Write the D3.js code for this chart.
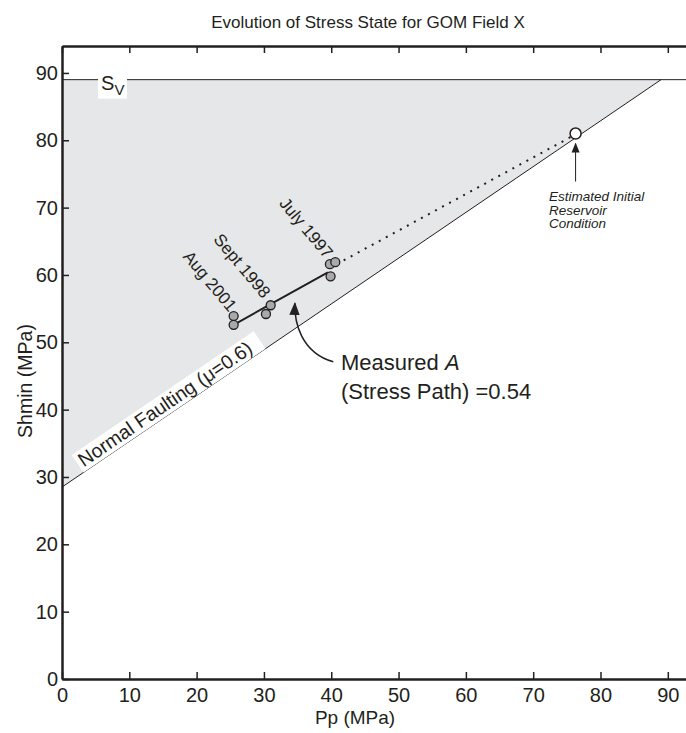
<!DOCTYPE html>
<html>
<head>
<meta charset="utf-8">
<script src="https://cdn.jsdelivr.net/npm/d3@7"></script>
<style>
  body { margin: 0; background: #fff; }
  svg { font-family: Arial, "Liberation Sans", sans-serif; }
</style>
</head>
<body>
<svg width="686" height="733"></svg>
<script>
// chart data
var xTicks = [0, 10, 20, 30, 40, 50, 60, 70, 80, 90];
var yTicks = [0, 10, 20, 30, 40, 50, 60, 70, 80, 90];
var sv = 89;                       // vertical stress (MPa)
var nfLine = [[0, 28.5], [89, 89]]; // normal faulting limit, mu=0.6
var measured = [
  {pp: 25.5, sh: 53.9}, {pp: 25.5, sh: 52.6},
  {pp: 30.3, sh: 54.2}, {pp: 31.0, sh: 55.5},
  {pp: 39.8, sh: 61.6}, {pp: 40.6, sh: 61.9}, {pp: 39.9, sh: 59.8}
];
var pathLine = [[25.5, 52.6], [39.5, 60.4]];
var dottedLine = [[40.8, 61.6], [75.8, 80.6]];
var initial = {pp: 76.3, sh: 81};
var dateLabels = [
  {text: "Aug 2001", pp: 24.8, sh: 54.4},
  {text: "Sept 1998", pp: 29.8, sh: 56.4},
  {text: "July 1997", pp: 39.1, sh: 62.3}
];
var estLines = ["Estimated Initial", "Reservoir", "Condition"];

var svg = d3.select("svg");
var ink = "#231f20";

var x = d3.scaleLinear().domain([0, 93]).range([62, 688]);
var y = d3.scaleLinear().domain([0, 94]).range([679, 46]);

// gray admissible region between Sv and faulting line
svg.append("path")
  .datum([[0, sv], [nfLine[1][0], sv], nfLine[1], nfLine[0]])
  .attr("fill", "#e6e7e8")
  .attr("d", d3.line().x(function (d) { return x(d[0]); }).y(function (d) { return y(d[1]); }));

// Sv line
svg.append("line")
  .attr("x1", x(0)).attr("x2", 686)
  .attr("y1", y(sv)).attr("y2", y(sv))
  .attr("stroke", ink).attr("stroke-width", 1);

// normal faulting line
svg.append("line")
  .attr("x1", x(nfLine[0][0])).attr("y1", y(nfLine[0][1]))
  .attr("x2", x(nfLine[1][0])).attr("y2", y(nfLine[1][1]))
  .attr("stroke", ink).attr("stroke-width", 1);

// Sv label
var svG = svg.append("g").attr("transform", "translate(" + x(5.8) + "," + y(sv) + ")");
svG.append("rect").attr("x", -3).attr("y", -5).attr("width", 29).attr("height", 24).attr("fill", "#fff");
var svText = svG.append("text").attr("y", 10).attr("font-size", 20).attr("fill", ink);
svText.append("tspan").text("S");
svText.append("tspan").attr("font-size", 15).attr("dy", 5).text("V");

// normal faulting label
var slope = (nfLine[1][1] - nfLine[0][1]) / (nfLine[1][0] - nfLine[0][0]);
var slopeAngle = Math.atan2(y(nfLine[0][1]) - y(nfLine[1][1]), x(nfLine[1][0]) - x(nfLine[0][0])) * 180 / Math.PI;
var nfG = svg.append("g")
  .attr("transform", "translate(" + x(3.2) + "," + y(nfLine[0][1] + 3.2 * slope) + ") rotate(" + (-slopeAngle) + ")");
nfG.append("rect").attr("x", 0).attr("y", -21).attr("width", 220).attr("height", 21).attr("fill", "#fff");
var nfText = nfG.append("text").attr("x", 3).attr("y", -4).attr("font-size", 19.5).attr("fill", ink);
nfText.append("tspan").text("Normal Faulting (");
nfText.append("tspan").text("\u03bc");
nfText.append("tspan").text("=0.6)");

// stress path lines
svg.append("line")
  .attr("x1", x(pathLine[0][0])).attr("y1", y(pathLine[0][1]))
  .attr("x2", x(pathLine[1][0])).attr("y2", y(pathLine[1][1]))
  .attr("stroke", ink).attr("stroke-width", 2);
svg.append("line")
  .attr("x1", x(dottedLine[0][0])).attr("y1", y(dottedLine[0][1]))
  .attr("x2", x(dottedLine[1][0])).attr("y2", y(dottedLine[1][1]))
  .attr("stroke", ink).attr("stroke-width", 2).attr("stroke-dasharray", "2,6");

// measured points
svg.selectAll(".pt").data(measured).enter().append("circle")
  .attr("class", "pt")
  .attr("cx", function (d) { return x(d.pp); })
  .attr("cy", function (d) { return y(d.sh); })
  .attr("r", 4.5)
  .attr("fill", "#a7a9ac").attr("stroke", ink).attr("stroke-width", 1.3);

// initial condition
svg.append("circle")
  .attr("cx", x(initial.pp)).attr("cy", y(initial.sh)).attr("r", 5.5)
  .attr("fill", "#fff").attr("stroke", ink).attr("stroke-width", 1.5);

// date labels
svg.selectAll(".dl").data(dateLabels).enter().append("text")
  .attr("class", "dl")
  .attr("transform", function (d) { return "translate(" + x(d.pp) + "," + y(d.sh) + ") rotate(50)"; })
  .attr("text-anchor", "end")
  .attr("font-size", 17)
  .attr("fill", ink)
  .text(function (d) { return d.text; });

// arrowheads
var defs = svg.append("defs");
defs.append("marker").attr("id", "ah").attr("viewBox", "0 0 10 10")
  .attr("refX", 9).attr("refY", 5).attr("markerWidth", 10).attr("markerHeight", 10)
  .attr("markerUnits", "userSpaceOnUse").attr("orient", "auto")
  .append("path").attr("d", "M0,1 L10,5 L0,9 Z").attr("fill", ink);
defs.append("marker").attr("id", "ah2").attr("viewBox", "0 0 10 10")
  .attr("refX", 9).attr("refY", 5).attr("markerWidth", 13).attr("markerHeight", 13)
  .attr("markerUnits", "userSpaceOnUse").attr("orient", "auto")
  .append("path").attr("d", "M0,1 L10,5 L0,9 Z").attr("fill", ink);

// curved arrow to measured path
svg.append("path")
  .attr("d", "M" + x(40.3) + "," + y(47.1) + " C" + x(35.5) + "," + y(48.5) + " " + x(34.5) + "," + y(53) + " " + x(34.6) + "," + y(55.8))
  .attr("fill", "none").attr("stroke", ink).attr("stroke-width", 1.5)
  .attr("marker-end", "url(#ah2)");

// arrow to initial condition
svg.append("line")
  .attr("x1", x(initial.pp)).attr("y1", y(initial.sh) + 48)
  .attr("x2", x(initial.pp)).attr("y2", y(initial.sh) + 10)
  .attr("stroke", ink).attr("stroke-width", 1)
  .attr("marker-end", "url(#ah)");

// annotations
var m = svg.append("text").attr("x", 341).attr("y", 370).attr("font-size", 22).attr("fill", ink);
m.append("tspan").text("Measured ");
m.append("tspan").attr("font-style", "italic").text("A");
svg.append("text").attr("x", 341).attr("y", 399).attr("font-size", 22).attr("fill", ink)
  .text("(Stress Path) =0.54");

var est = svg.append("text").attr("font-size", 13.5).attr("font-style", "italic").attr("fill", ink);
estLines.forEach(function (t, i) {
  est.append("tspan").attr("x", 549).attr("y", 201 + i * 13.5).text(t);
});

// axes with inward ticks
var bottomAxis = svg.append("g").attr("transform", "translate(0," + y(0) + ")")
  .call(d3.axisBottom(x).tickValues(xTicks).tickSize(-7).tickPadding(9).tickSizeOuter(0));
var leftAxis = svg.append("g").attr("transform", "translate(" + x(0) + ",0)")
  .call(d3.axisLeft(y).tickValues(yTicks).tickSize(-7).tickPadding(4).tickSizeOuter(0));
var topAxis = svg.append("g").attr("transform", "translate(0," + y(94) + ")")
  .call(d3.axisTop(x).tickValues(xTicks).tickSize(-7).tickFormat("").tickSizeOuter(0));

[bottomAxis, leftAxis, topAxis].forEach(function (a) {
  a.select(".domain").attr("stroke", ink).attr("stroke-width", 2.5);
  a.selectAll(".tick line").attr("stroke", ink).attr("stroke-width", 1.5);
  a.selectAll(".tick text").attr("fill", ink).attr("font-size", 20)
    .attr("font-family", "Arial, 'Liberation Sans', sans-serif");
});
bottomAxis.selectAll(".tick text").attr("dy", "0.71em");

// titles
svg.append("text").attr("x", 368).attr("y", 28).attr("text-anchor", "middle")
  .attr("font-size", 17).attr("fill", ink).text("Evolution of Stress State for GOM Field X");
svg.append("text").attr("x", 355).attr("y", 724).attr("text-anchor", "middle")
  .attr("font-size", 19).attr("fill", ink).text("Pp (MPa)");
svg.append("text").attr("transform", "translate(32,381) rotate(-90)").attr("text-anchor", "middle")
  .attr("font-size", 19.5).attr("fill", ink).text("Shmin (MPa)");
</script>
</body>
</html>
